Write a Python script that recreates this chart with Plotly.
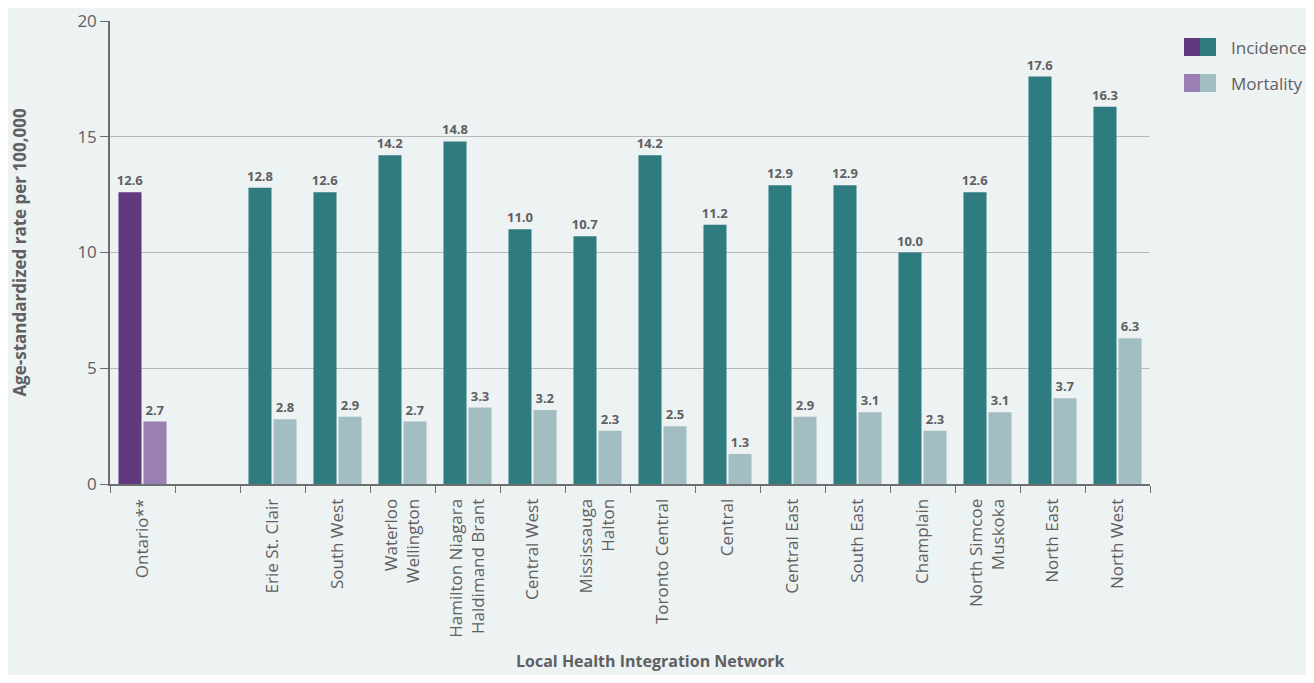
import plotly.graph_objects as go

# LHIN categories (blank slot separates Ontario from the regions)
regions = ["Ontario**", " ", "Erie St. Clair", "South West", "Waterloo<br>Wellington",
           "Hamilton Niagara<br>Haldimand Brant", "Central West", "Mississauga<br>Halton",
           "Toronto Central", "Central", "Central East", "South East", "Champlain",
           "North Simcoe<br>Muskoka", "North East", "North West"]
incidence = [12.6, None, 12.8, 12.6, 14.2, 14.8, 11.0, 10.7, 14.2, 11.2, 12.9, 12.9, 10.0, 12.6, 17.6, 16.3]
mortality = [2.7, None, 2.8, 2.9, 2.7, 3.3, 3.2, 2.3, 2.5, 1.3, 2.9, 3.1, 2.3, 3.1, 3.7, 6.3]

purple_dark, purple_light = "#62397f", "#9a7fb2"
teal_dark, teal_light = "#2e7b80", "#a2bec2"
bg = "#edf2f2"
grey = "#5f6062"

inc_colors = [purple_dark] + [teal_dark] * (len(regions) - 1)
mort_colors = [purple_light] + [teal_light] * (len(regions) - 1)

fig = go.Figure()
fig.add_bar(x=regions, y=incidence, name="Incidence", marker_color=inc_colors,
            texttemplate="%{y:.1f}", textposition="outside", cliponaxis=False)
fig.add_bar(x=regions, y=mortality, name="Mortality", marker_color=mort_colors,
            texttemplate="%{y:.1f}", textposition="outside", cliponaxis=False)

fig.update_traces(textfont=dict(family="Open Sans", size=13, color=grey, weight="bold"),
                  constraintext="none", marker_line_width=0)

# page body has an 8px margin, so the figure is shrunk and shifted by that much
W, H = 1298, 667
L, R, T, B = 102, 1142, 13, 476
fig.update_layout(
    width=W, height=H,
    paper_bgcolor=bg, plot_bgcolor=bg,
    margin=dict(l=L, r=W - R, t=T, b=H - B),
    barmode="group", bargap=0.23, bargroupgap=0.08,
    showlegend=False,
    font=dict(family="Open Sans", color=grey),
)
fig.update_xaxes(
    type="category", tickangle=-90, tickfont=dict(size=17, color=grey),
    ticks="outside", tickson="boundaries", ticklen=7, tickcolor="#6d6e70",
    ticklabelstandoff=6,
    showline=True, linecolor="#6d6e70", linewidth=2, showgrid=False, automargin=False,
)
fig.update_yaxes(
    range=[0, 20], tickvals=[0, 5, 10, 15, 20], tickfont=dict(size=17, color=grey),
    ticks="outside", ticklen=8, tickcolor="#6d6e70",
    showline=True, linecolor="#6d6e70", linewidth=1.5, automargin=False,
    showgrid=True, gridcolor="#b5b9b9", gridwidth=1, zeroline=False,
    title=dict(text="<b>Age-standardized rate per 100,000</b>", font=dict(size=17, color=grey),
               standoff=48),
)

# custom two-tone legend swatches (positions in page pixels, converted to paper coords)
def px_x(p):
    return (p - 8 - L) / (R - L)

def px_y(p):
    return 1 - (p - 8 - T) / (B - T)

# x-axis title sits low, near the bottom edge as in the original
fig.add_annotation(xref="paper", yref="paper", x=px_x(650), y=px_y(674),
                   text="<b>Local Health Integration Network</b>", showarrow=False,
                   xanchor="center", yanchor="bottom", font=dict(size=16, color=grey))

legend_items = [("Incidence", purple_dark, teal_dark, 47), ("Mortality", purple_light, teal_light, 83)]
for label, c1, c2, ypx in legend_items:
    y0, y1 = px_y(ypx + 9), px_y(ypx - 9)
    fig.add_shape(type="rect", xref="paper", yref="paper", x0=px_x(1184), x1=px_x(1200),
                  y0=y0, y1=y1, fillcolor=c1, line_width=0)
    fig.add_shape(type="rect", xref="paper", yref="paper", x0=px_x(1200), x1=px_x(1216),
                  y0=y0, y1=y1, fillcolor=c2, line_width=0)
    fig.add_annotation(xref="paper", yref="paper", x=px_x(1229), y=(y0 + y1) / 2,
                       text=label, showarrow=False, xanchor="left", yanchor="middle",
                       font=dict(size=17, color=grey))

fig.write_html("out.html")
